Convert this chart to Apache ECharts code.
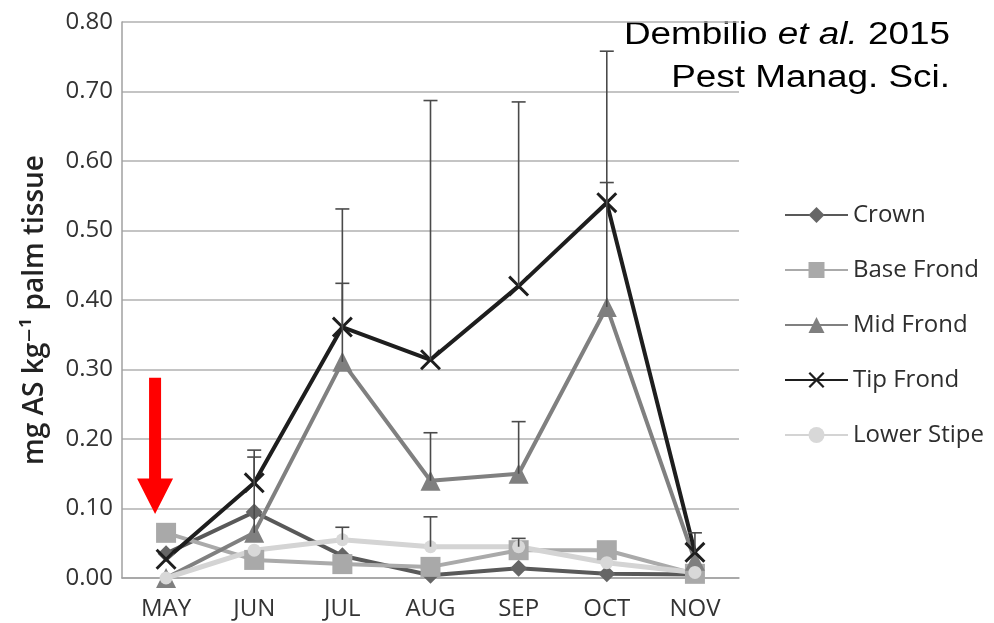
<!DOCTYPE html>
<html>
<head>
<meta charset="utf-8">
<title>Residues in palm tissue</title>
<script src="https://cdn.jsdelivr.net/npm/echarts@6/dist/echarts.min.js"></script>
<style>
  html, body { margin: 0; padding: 0; background: #ffffff; }
  #chart { width: 994px; height: 623px; }
</style>
</head>
<body>
<div id="chart"></div>
<script>
// Sampling months
const months = ['MAY', 'JUN', 'JUL', 'AUG', 'SEP', 'OCT', 'NOV'];

// Mean residue (mg AS per kg palm tissue) by tissue
const crown      = [0.035, 0.095, 0.032, 0.004, 0.014, 0.006, 0.005];
const baseFrond  = [0.065, 0.026, 0.020, 0.016, 0.040, 0.040, 0.006];
const midFrond   = [0.000, 0.065, 0.311, 0.140, 0.150, 0.390, 0.025];
const tipFrond   = [0.027, 0.137, 0.361, 0.314, 0.420, 0.540, 0.037];
const lowerStipe = [0.000, 0.040, 0.055, 0.045, 0.045, 0.022, 0.008];

// Upper ends of the error bars (null = no bar drawn)
const tipFrondUpper   = [null, 0.184, 0.531, 0.687, 0.685, 0.758, 0.065];
const midFrondUpper   = [null, 0.174, 0.424, 0.209, 0.225, 0.569, null];
const lowerStipeUpper = [null, null, 0.073, 0.088, 0.057, null, null];

// Value axis ticks
const yMin = 0, yMax = 0.8, yStep = 0.1;

// Arrow pointing at the first sampling
const arrowMonth = 'MAY';
const arrowFrom = 0.288, arrowHeadTop = 0.143, arrowTip = 0.092;

const seriesNames = ['Crown', 'Base Frond', 'Mid Frond', 'Tip Frond', 'Lower Stipe'];

const crossPath = 'path://M1,0 L5,4 L9,0 L10,1 L6,5 L10,9 L9,10 L5,6 L1,10 L0,9 L4,5 L0,1 Z';

function lineSeries(name, values, color, lineColor, symbol, size, width) {
  return {
    type: 'line',
    name: name,
    data: values,
    symbol: symbol,
    symbolSize: size,
    showSymbol: true,
    lineStyle: { color: lineColor, width: width },
    itemStyle: { color: color },
    emphasis: { disabled: true },
    animation: false,
    z: 3
  };
}

function errorBars(name, values, uppers) {
  const data = [];
  values.forEach(function (v, i) {
    if (uppers[i] != null) data.push([i, v, uppers[i]]);
  });
  return {
    type: 'custom',
    name: name,
    silent: true,
    animation: false,
    z: 4,
    encode: { x: 0, y: [1, 2] },
    data: data,
    renderItem: function (params, api) {
      const i = api.value(0);
      const lo = api.coord([i, api.value(1)]);
      const hi = api.coord([i, api.value(2)]);
      const half = 7;
      const st = { stroke: '#4a4a4a', lineWidth: 1.6 };
      return {
        type: 'group',
        children: [
          { type: 'line', shape: { x1: lo[0], y1: lo[1], x2: hi[0], y2: hi[1] }, style: st },
          { type: 'line', shape: { x1: hi[0] - half, y1: hi[1], x2: hi[0] + half, y2: hi[1] }, style: st }
        ]
      };
    }
  };
}

const chart = echarts.init(document.getElementById('chart'), null, { renderer: 'canvas' });

const option = {
  backgroundColor: '#ffffff',
  animation: false,
  grid: { left: 122, right: 255, top: 22, bottom: 45, containLabel: false },
  xAxis: {
    type: 'category',
    data: months,
    boundaryGap: true,
    axisLine: { show: true, lineStyle: { color: '#a0a0a0', width: 1.5 } },
    axisTick: { show: false },
    axisLabel: { fontFamily: 'Open Sans', fontSize: 24, color: '#333333', margin: 19 },
    splitLine: { show: false }
  },
  yAxis: {
    type: 'value',
    min: yMin,
    max: yMax,
    interval: yStep,
    axisLine: { show: true, lineStyle: { color: '#a0a0a0', width: 1.5 } },
    axisTick: { show: false },
    axisLabel: {
      fontFamily: 'Open Sans', fontSize: 24, color: '#333333', margin: 9,
      formatter: function (v) { return v.toFixed(2); }
    },
    splitLine: { show: true, lineStyle: { color: '#b0b0b0', width: 1.6 } }
  },
  legend: {
    data: seriesNames,
    orient: 'vertical',
    left: 779,
    top: 198,
    itemWidth: 63,
    itemHeight: 20,
    itemGap: 31,
    selectedMode: false,
    textStyle: { fontFamily: 'Open Sans', fontSize: 24, lineHeight: 24, color: '#2e2e2e' }
  },
  series: [
    lineSeries('Crown', crown, '#666666', '#595959', 'diamond', 17, 4),
    lineSeries('Base Frond', baseFrond, '#a9a9a9', '#aaaaaa', 'rect', 20, 4),
    lineSeries('Mid Frond', midFrond, '#7f7f7f', '#808080', 'triangle', 20, 4),
    lineSeries('Tip Frond', tipFrond, '#1e1e1e', '#1e1e1e', crossPath, 21, 4),
    lineSeries('Lower Stipe', lowerStipe, '#d8d8d8', '#d4d4d4', 'circle', 13, 5),
    errorBars('Tip Frond bars', tipFrond, tipFrondUpper),
    errorBars('Mid Frond bars', midFrond, midFrondUpper),
    errorBars('Lower Stipe bars', lowerStipe, lowerStipeUpper)
  ],
  graphic: [
    {
      type: 'text', id: 'ylabel',
      x: 35, y: 310, rotation: Math.PI / 2,
      style: {
        text: 'mg AS kg\u207B\u00B9 palm tissue',
        font: '600 28px "Open Sans", "DejaVu Sans", sans-serif',
        fill: '#222222', align: 'center', verticalAlign: 'middle'
      }
    },
    {
      type: 'text', id: 'ref1',
      x: 950, y: 35, scaleX: 1.19,
      style: {
        text: '{n|Dembilio }{i|et al.}{n| 2015}',
        align: 'right', verticalAlign: 'middle',
        rich: {
          n: { fontFamily: '"Liberation Sans", Arial, sans-serif', fontSize: 31, fill: '#000000' },
          i: { fontFamily: '"Liberation Sans", Arial, sans-serif', fontSize: 31, fontStyle: 'italic', fill: '#000000' }
        }
      }
    },
    {
      type: 'text', id: 'ref2',
      x: 950, y: 78, scaleX: 1.19,
      style: {
        text: 'Pest Manag. Sci.',
        font: '31px "Liberation Sans", Arial, sans-serif',
        fill: '#000000', align: 'right', verticalAlign: 'middle'
      }
    }
  ]
};

chart.setOption(option);

// Red arrow placed through the axes
const toPx = function (m, v) {
  return chart.convertToPixel({ xAxisIndex: 0, yAxisIndex: 0 }, [m, v]);
};
const a0 = toPx(arrowMonth, arrowFrom);
const a1 = toPx(arrowMonth, arrowHeadTop);
const a2 = toPx(arrowMonth, arrowTip);
const ax = a0[0] - 11;
const shaftHalf = 6, headHalf = 18;
chart.setOption({
  graphic: [
    {
      type: 'polygon', id: 'arrow', z: 10,
      shape: {
        points: [
          [ax - shaftHalf, a0[1]], [ax + shaftHalf, a0[1]],
          [ax + shaftHalf, a1[1]], [ax + headHalf, a1[1]],
          [ax, a2[1]],
          [ax - headHalf, a1[1]], [ax - shaftHalf, a1[1]]
        ]
      },
      style: { fill: '#ff0000' }
    }
  ]
});
</script>
</body>
</html>
